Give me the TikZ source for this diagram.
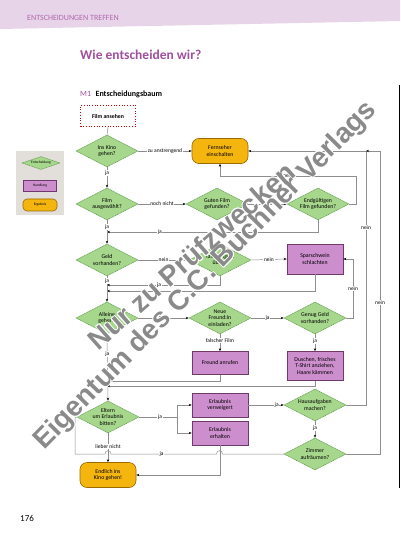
\documentclass[tikz,border=0pt]{standalone}
\usepackage{fontspec}
\setmainfont{Carlito}
\newfontfamily\wmfont{Liberation Sans}
\usetikzlibrary{shapes.geometric,arrows.meta}
\definecolor{band}{HTML}{E8D4E8}
\definecolor{purp}{HTML}{A04FA0}
\definecolor{gfill}{HTML}{A6D78C}
\definecolor{gdraw}{HTML}{5E9A4A}
\definecolor{pfill}{HTML}{CC8ECC}
\definecolor{pdraw}{HTML}{6E3A6E}
\definecolor{ofill}{HTML}{F5B50F}
\definecolor{odraw}{HTML}{9A6A00}
\definecolor{lgray}{HTML}{8E8E8E}
\definecolor{leg}{HTML}{E2DFDA}
\definecolor{wm}{HTML}{8A8A8A}
\begin{document}
\begin{tikzpicture}[x=1pt,y=-1pt,
 nfont/.style={font=\fontsize{5.8}{6.4}\selectfont},
 dia/.style={shape=diamond, draw=gdraw, fill=gfill, dash pattern=on 1.2pt off 0.6pt, line width=0.5pt, minimum width=62pt, minimum height=32pt, inner sep=-6pt, align=center, nfont},
 act/.style={rectangle, draw=pdraw, fill=pfill, line width=0.6pt, minimum width=56pt, minimum height=24pt, inner sep=1pt, align=center, nfont},
 res/.style={rectangle, rounded corners=7pt, draw=odraw, fill=ofill, line width=0.6pt, minimum width=56pt, minimum height=25pt, inner sep=1pt, align=center, nfont},
 startbox/.style={rectangle, draw=red!80!black, dotted, line width=0.7pt, fill=white, minimum width=55pt, minimum height=21pt, font=\fontsize{5.8}{6.4}\selectfont\bfseries},
 con/.style={draw=lgray, line width=0.5pt},
 arr/.style={con, -{Stealth[length=3pt,width=2.4pt,black]}},
 lab/.style={fill=white, inner sep=0.7pt, font=\fontsize{5.5}{6}\selectfont},
 wmtext/.style={font=\wmfont\bfseries\fontsize{28}{30}\selectfont, anchor=base, inner sep=0pt},
]
\useasboundingbox (0,0) rectangle (400,534);
\fill[white] (0,0) rectangle (400,534);
% header band
\fill[band] (0,0) -- (400,0) -- (400,21) -- (0,29) -- cycle;
\node[anchor=base west, inner sep=0, text=purp!85, font=\fontsize{8}{9}\selectfont] (hdr) at (27,20.5) {ENTSCHEIDUNGEN TREFFEN};
\node[anchor=base west, inner sep=0, text=purp, font=\fontsize{13.5}{15}\selectfont\bfseries] (title) at (80,60) {Wie entscheiden wir?};
\node[anchor=base west, inner sep=0, font=\fontsize{8}{9}\selectfont] (m1) at (80,97) {\textcolor{purp}{M1}\hspace{4.5pt}\textbf{Entscheidungsbaum}};
\node[anchor=base west, inner sep=0, font=\fontsize{9}{10}\selectfont] (pg) at (20,521) {176};
\draw[black, line width=0.8pt] (399.5,85) -- (399.5,488);

% legend
\node[fill=leg, minimum width=48pt, minimum height=64pt, inner sep=0] (legbox) at (40,183) {};
\node[dia, minimum width=38pt, minimum height=13pt, font=\fontsize{3.6}{4}\selectfont] (l1) at (41,163) {Entscheidung};
\node[act, minimum width=33pt, minimum height=11pt, font=\fontsize{3.6}{4}\selectfont] (l2) at (40,186) {Handlung};
\node[res, minimum width=34pt, minimum height=12pt, rounded corners=4pt, font=\fontsize{3.6}{4}\selectfont] (l3) at (40,205) {Ergebnis};

% nodes
\node[startbox] (s) at (108,116) {Film ansehen};
\node[dia] (d1) at (107,151) {Ins Kino\\gehen?};
\node[res] (r1) at (220,151) {Fernseher\\einschalten};
\node[dia] (d2) at (107,204) {Film\\ausgewählt?};
\node[dia] (d3) at (217,204) {Guten Film\\gefunden?};
\node[dia] (d4) at (318,204) {Endgültigen\\Film gefunden?};
\node[dia] (d5) at (107,260) {Geld\\vorhanden?};
\node[dia] (d6) at (220,260) {Taschengeld\\übrig?};
\node[act, minimum height=30pt] (a1) at (315,259) {Sparschwein\\schlachten};
\node[dia] (d7) at (107,318) {Alleine\\gehen?};
\node[dia] (d8) at (220,318) {Neue\\Freund:in\\einladen?};
\node[dia] (d9) at (315,318) {Genug Geld\\vorhanden?};
\node[act, minimum height=23pt] (a2) at (220,363) {Freund anrufen};
\node[act, minimum height=29pt] (a3) at (315,366) {Duschen, frisches\\T-Shirt anziehen,\\Haare kämmen};
\node[dia] (d10) at (108,417) {Eltern\\um Erlaubnis\\bitten?};
\node[act] (a4) at (220,405) {Erlaubnis\\verweigert};
\node[act] (a5) at (220,433) {Erlaubnis\\erhalten};
\node[dia] (d11) at (315,405) {Hausaufgaben\\machen?};
\node[dia] (d12) at (315,454) {Zimmer\\aufräumen?};
\node[res] (r2) at (108,475) {Endlich ins\\Kino gehen!};

% connectors
\draw[con] (s.south) -- (d1.north);
\draw[arr] (d1.east) -- node[lab]{zu anstrengend} (r1.west);
\draw[arr] (d1.south) -- node[lab,pos=0.3]{ja} (d2.north);
\draw[arr] (d2.east) -- node[lab]{noch nicht} (d3.west);
\draw[arr] (d3.east) -- node[lab]{nein} (d4.west);
\draw[arr] (d4.east) -- (356,204) -- (356,176) -- node[lab]{nein} (220,176) -- (r1.south);
\draw[arr] (d4.south) -- (318,232) -- node[lab,pos=0.75]{ja} (107,232);
\draw[arr] (d2.south) -- node[lab,pos=0.3]{ja} (d5.north);
\draw[arr] (d5.east) -- node[lab]{nein} (d6.west);
\draw[arr] (d6.east) -- node[lab]{nein} (a1.west);
\draw[arr] (d6.south) -- (220,285) -- node[lab,pos=0.54]{ja} (107,285);
\draw[arr] (a1.south) -- (315,291) -- (107,291);
\draw[arr] (d5.south) -- node[lab,pos=0.2]{ja} (d7.north);
\draw[arr] (d7.east) -- node[lab]{nein} (d8.west);
\draw[arr] (d8.east) -- node[lab]{ja} (d9.west);
\draw[arr] (d9.east) -- (353,318) -- node[lab]{nein} (353,259) -- (a1.east);
\draw[arr] (d9.south) -- node[lab,pos=0.4]{ja} (a3.north);
\draw[arr] (d8.south) -- node[lab,pos=0.35]{falscher Film} (a2.north);
\draw[arr] (a2.south) -- (220,381) -- (107,381);
\draw[arr] (a3.south) -- (315,386) -- (107,386);
\draw[arr] (d7.south) -- node[lab,pos=0.3]{ja} (d10.north);
\draw[con] (d10.east) -- node[lab,pos=0.55]{ja} (177,417);
\draw[arr] (177,417) -- (177,405) -- (a4.west);
\draw[arr] (177,417) -- (177,433) -- (a5.west);
\draw[arr] (a4.east) -- node[lab,pos=0.8]{ja} (d11.west);
\draw[arr] (d11.south) -- node[lab,pos=0.4]{ja} (d12.north);
\draw[arr] (d11.east) -- (366,405) -- node[lab,pos=0.7]{nein} (366,151) -- (r1.east);
\draw[arr] (d12.east) -- (380,454) -- node[lab,pos=0.5]{nein} (380,151) -- (366,151);
\draw[con] (d12.west) -- (222.5,454) .. controls (222.5,449.5) and (216.5,449.5) .. (216.5,454) -- node[lab,pos=0.52]{ja} (111,454) .. controls (111,449.5) and (105,449.5) .. (105,454) -- (75,454) -- (75,417) -- (d10.west);
\draw[arr] (d10.south) -- node[lab,pos=0.45]{lieber nicht} (r2.north);
\draw[arr] (a5.south) -- (220,475) -- (r2.east);

% watermark
\foreach \dx/\dy in {1/0,-1/0,0/1,0/-1,0.7/0.7,-0.7/0.7,0.7/-0.7,-0.7/-0.7} {
  \node[wmtext, text=white, rotate=41.5, xshift=\dx pt, yshift=\dy pt] (wmA) at (198,263) {Nur zu Prüfzwecken};
  \node[wmtext, text=white, rotate=45.5, xshift=\dx pt, yshift=\dy pt] (wmB) at (211,281) {Eigentum des C.C. Buchner Verlags};
}
\node[wmtext, text=wm, rotate=41.5] (wm1) at (198,263) {Nur zu Prüfzwecken};
\node[wmtext, text=wm, rotate=45.5] (wm2) at (211,281) {Eigentum des C.C. Buchner Verlags};
\end{tikzpicture}
\end{document}
